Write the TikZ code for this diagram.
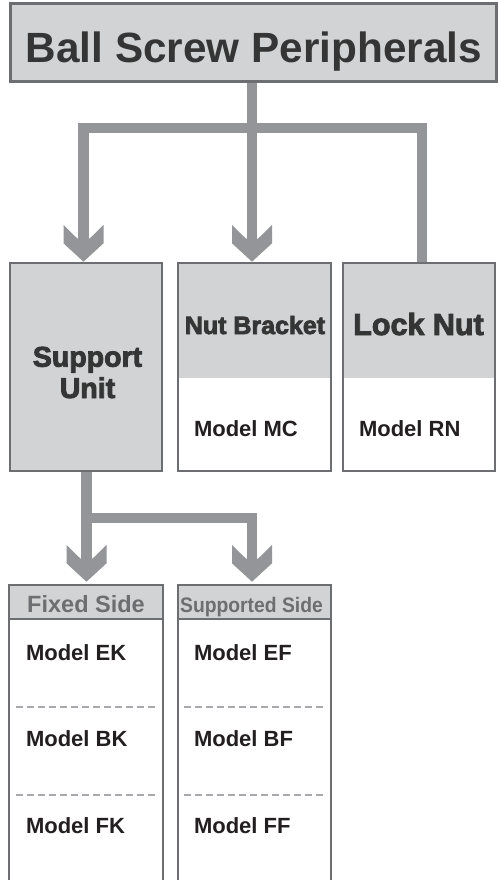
\documentclass[tikz,border=0pt]{standalone}
\usepackage{fontspec}
\setmainfont{Liberation Sans}
\newfontfamily\heavy{Liberation Sans}[BoldFeatures={FakeBold=3}]
\usetikzlibrary{calc}
\pgfdeclarelayer{bg}
\pgfsetlayers{bg,main}
\definecolor{boxfill}{HTML}{D1D3D4}
\definecolor{boxline}{HTML}{6D6E71}
\definecolor{connc}{HTML}{939598}
\definecolor{dashgray}{HTML}{A7A9AC}
\definecolor{titletext}{HTML}{353535}
\definecolor{modeltext}{HTML}{231F20}
\begin{document}
\begin{tikzpicture}[x=1pt,y=-1pt,
  panel/.style={rectangle,draw=boxline,line width=2.5pt,inner sep=0pt,outer sep=0pt},
  headed/.style={path picture={\fill[boxfill] (path picture bounding box.north west) rectangle ([yshift=-#1]path picture bounding box.north east);}},
  headruled/.style={path picture={\fill[boxfill] (path picture bounding box.north west) rectangle ([yshift=-#1]path picture bounding box.north east);
      \draw[boxline,line width=2.5pt] ([yshift=-#1]path picture bounding box.north west) -- ([yshift=-#1]path picture bounding box.north east);}},
  conn/.style={draw=connc,line width=10.5pt,line join=miter,line cap=butt},
  chevron/.pic={\fill[connc] (0,0) -- (20,-18.4) -- (20,-36.7) -- (6,-23) -- (-6,-23) -- (-20,-36.7) -- (-20,-18.4) -- cycle;},
  txt/.style={inner sep=0pt,outer sep=0pt},
  titlefont/.style={txt,text=titletext,font=\bfseries\fontsize{42.3}{48}\selectfont},
  heavyfont/.style={txt,text=titletext,font=\heavy\bfseries\fontsize{#1}{32}\selectfont},
  headfont/.style={txt,text=boxline,font=\bfseries\fontsize{23.5}{26}\selectfont},
  modelfont/.style={txt,text=modeltext,font=\bfseries\fontsize{22}{26}\selectfont},
  sepline/.style={draw=dashgray,line width=1.7pt,dash pattern=on 7pt off 4pt}
]
\useasboundingbox (0,0) rectangle (499,880);

% boxes
\node[panel,fill=boxfill,line width=3pt,minimum width=486pt,minimum height=78pt] (title) at (253,43) {};
\node[panel,fill=boxfill,minimum width=152pt,minimum height=208pt] (su) at (86,367) {};
\node[panel,headed=115pt,minimum width=153pt,minimum height=208pt] (nb) at (254.5,367) {};
\node[panel,headed=115pt,minimum width=152pt,minimum height=208pt] (ln) at (419,367) {};
\begin{scope}
  \clip (0,0) rectangle (499,880);
  \node[panel,headruled=34pt,minimum width=154pt,minimum height=305pt] (fs) at (86,737.5) {};
  \node[panel,headruled=34pt,minimum width=153pt,minimum height=305pt] (ss) at (254.5,737.5) {};
\end{scope}

% connectors (behind boxes)
\begin{pgfonlayer}{bg}
  \fill[white] (0,0) rectangle (499,880);
  \coordinate (j1) at (252,128);
  \draw[conn] ([xshift=-1pt]title.south) -- (j1);
  \draw[conn] ([xshift=-2.5pt,yshift=23pt]su.north) |- (j1) -| ([xshift=3pt]ln.north);
  \draw[conn] (j1) -- ([xshift=-2.5pt,yshift=23pt]nb.north);
  \pic at ([xshift=-2.5pt,yshift=1.3pt]su.north) {chevron};
  \pic at ([xshift=-2.5pt,yshift=1.3pt]nb.north) {chevron};
  \coordinate (j2) at (86.5,518);
  \draw[conn] ([xshift=0.5pt]su.south) -- ([xshift=0.5pt,yshift=25pt]fs.north);
  \draw[conn] (j2) -| ([xshift=-2.5pt,yshift=25pt]ss.north);
  \pic at ([xshift=0.5pt,yshift=3.3pt]fs.north) {chevron};
  \pic at ([xshift=-2.5pt,yshift=3.3pt]ss.north) {chevron};
\end{pgfonlayer}

% texts
\node[titlefont,anchor=base] (t0) at (254,63) {Ball Screw Peripherals};
\node[heavyfont=28.5,anchor=base] (t1) at (87.5,366.7) {Support};
\node[heavyfont=28.5,anchor=base] (t2) at (87.5,398) {Unit};
\node[heavyfont=25,anchor=base] (t3) at (255,334) {Nut Bracket};
\node[heavyfont=30.5,anchor=base] (t4) at (418.5,335) {Lock Nut};
\node[modelfont,anchor=base west] (m1) at (194,436) {Model MC};
\node[modelfont,anchor=base west] (m2) at (359,436) {Model RN};

\node[headfont,anchor=base] (h1) at (86,612) {Fixed Side};
\node[headfont,anchor=base,xscale=0.92] (h2) at (251.5,612) {\fontsize{21}{26}\selectfont Supported Side};

\node[modelfont,anchor=base west] (e1) at (26,660) {Model EK};
\node[modelfont,anchor=base west] (e2) at (26,746) {Model BK};
\node[modelfont,anchor=base west] (e3) at (26,833) {Model FK};
\node[modelfont,anchor=base west] (f1) at (194,660) {Model EF};
\node[modelfont,anchor=base west] (f2) at (194,746) {Model BF};
\node[modelfont,anchor=base west] (f3) at (194,833) {Model FF};

\draw[sepline] (16,707) -- (155,707);
\draw[sepline] (184,707) -- (323,707);
\draw[sepline] (16,795) -- (155,795);
\draw[sepline] (184,795) -- (323,795);
\end{tikzpicture}
\end{document}
